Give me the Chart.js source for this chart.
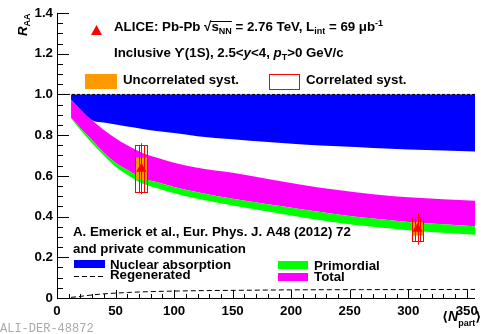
<!DOCTYPE html>
<html>
<head>
<meta charset="utf-8">
<script src="https://cdn.jsdelivr.net/npm/chart.js@4/dist/chart.umd.min.js"></script>
<style>
  html, body { margin: 0; padding: 0; background: #fff; }
  #raa { display: block; }
</style>
</head>
<body>
<canvas id="raa" width="481" height="334"></canvas>
<script>
// model bands (Emerick et al.)
var npart          = [12, 20, 30, 40, 50, 60, 72, 85, 100, 120, 150, 180, 210, 240, 270, 300, 330, 357];
var nuclearHigh    = [1, 1, 1, 1, 1, 1, 1, 1, 1, 1, 1, 1, 1, 1, 1, 1, 1, 1];
var nuclearLow     = [0.974, 0.925, 0.873, 0.862, 0.852, 0.843, 0.832, 0.82, 0.81, 0.795, 0.78, 0.766, 0.754, 0.745, 0.737, 0.73, 0.725, 0.72];
var totalHigh      = [0.974, 0.925, 0.873, 0.825, 0.785, 0.75, 0.715, 0.69, 0.665, 0.64, 0.615, 0.585, 0.555, 0.53, 0.51, 0.495, 0.485, 0.478];
var totalLow       = [0.885, 0.835, 0.775, 0.715, 0.665, 0.63, 0.59, 0.57, 0.545, 0.52, 0.487, 0.46, 0.435, 0.41, 0.39, 0.373, 0.362, 0.352];
var primordialLow  = [0.882, 0.825, 0.76, 0.70, 0.645, 0.605, 0.565, 0.54, 0.515, 0.488, 0.455, 0.425, 0.395, 0.37, 0.35, 0.333, 0.32, 0.311];

var regenNpart     = [12, 20, 30, 44, 60, 78, 100, 120, 160, 200, 260, 357];
var regenValues    = [0.003, 0.008, 0.015, 0.022, 0.027, 0.031, 0.034, 0.036, 0.038, 0.040, 0.041, 0.042];

// ALICE data
var aliceNpart     = [72, 308];
var aliceRaa       = [0.635, 0.34];
var aliceStat      = [0.125, 0.078];
var aliceUncorr    = [0.055, 0.033];
var aliceCorr      = [0.115, 0.06];

var xTicks = [0, 50, 100, 150, 200, 250, 300, 350];
var yTicks = [0, 0.2, 0.4, 0.6, 0.8, 1, 1.2, 1.4];

var FONT = '"Liberation Sans", "DejaVu Sans", Arial, sans-serif';

function pts(xs, ys) {
    return xs.map(function (x, i) { return { x: x, y: ys[i] }; });
}

function band(data, color, fill) {
    return {
        data: data,
        borderWidth: 0,
        borderColor: 'rgba(0,0,0,0)',
        backgroundColor: color,
        pointRadius: 0,
        cubicInterpolationMode: 'monotone',
        fill: fill
    };
}

function rich(ctx, x, y, parts) {
    parts.forEach(function (p) {
        ctx.font = (p.it ? 'italic ' : '') + 'bold ' + (p.size || 13.3) + 'px ' + FONT;
        ctx.fillText(p.t, x, y + (p.dy || 0));
        p.x0 = x;
        x += ctx.measureText(p.t).width;
        p.x1 = x;
    });
    return parts;
}

var boxesPlugin = {
    id: 'boxes',
    beforeDatasetDraw: function (chart, args) {
        if (args.index !== 0) return;
        var ctx = chart.ctx, xs = chart.scales.x, ys = chart.scales.y;
        ctx.save();
        ctx.fillStyle = '#ff9900';
        aliceNpart.forEach(function (n, i) {
            var x0 = xs.getPixelForValue(n - 5), x1 = xs.getPixelForValue(n + 5);
            var y0 = ys.getPixelForValue(aliceRaa[i] + aliceUncorr[i]), y1 = ys.getPixelForValue(aliceRaa[i] - aliceUncorr[i]);
            ctx.fillRect(x0, y0, x1 - x0, y1 - y0);
        });
        ctx.restore();
    },
    afterDatasetDraw: function (chart, args) {
        if (args.index !== 0) return;
        var ctx = chart.ctx, xs = chart.scales.x, ys = chart.scales.y;
        ctx.save();
        ctx.strokeStyle = '#ff0000';
        ctx.lineWidth = 1;
        aliceNpart.forEach(function (n, i) {
            var xc = Math.round(xs.getPixelForValue(n)) + 0.5;
            var y0 = ys.getPixelForValue(aliceRaa[i] + aliceCorr[i]), y1 = ys.getPixelForValue(aliceRaa[i] - aliceCorr[i]);
            [5, 2.2].forEach(function (w) {
                var x0 = Math.round(xs.getPixelForValue(n - w)) + 0.5, x1 = Math.round(xs.getPixelForValue(n + w)) + 0.5;
                ctx.strokeRect(x0, Math.round(y0) + 0.5, x1 - x0, Math.round(y1 - y0));
            });
            ctx.beginPath();
            ctx.moveTo(xc, ys.getPixelForValue(aliceRaa[i] + aliceStat[i]));
            ctx.lineTo(xc, ys.getPixelForValue(aliceRaa[i] - aliceStat[i]));
            ctx.stroke();
        });
        ctx.restore();
    }
};

var framePlugin = {
    id: 'frame',
    afterDraw: function (chart) {
        var ctx = chart.ctx, xs = chart.scales.x, ys = chart.scales.y, a = chart.chartArea;
        ctx.save();
        ctx.strokeStyle = '#000';
        ctx.lineWidth = 1;
        ctx.beginPath();
        ctx.moveTo(a.left + 0.5, a.top);
        ctx.lineTo(a.left + 0.5, a.bottom + 0.5);
        ctx.lineTo(a.right, a.bottom + 0.5);
        // y ticks, inward
        for (var v = 0; v <= 1.4001; v += 0.05) {
            var py = Math.round(ys.getPixelForValue(v)) + 0.5;
            var major = Math.abs(v / 0.2 - Math.round(v / 0.2)) < 1e-6;
            ctx.moveTo(a.left, py);
            ctx.lineTo(a.left + (major ? 12 : 6), py);
        }
        // x ticks, inward
        for (var n = 0; n <= 357; n += 10) {
            var px = Math.round(xs.getPixelForValue(n)) + 0.5;
            ctx.moveTo(px, a.bottom);
            ctx.lineTo(px, a.bottom - (n % 50 === 0 ? 8 : 4));
        }
        ctx.stroke();

        ctx.fillStyle = '#000';
        ctx.textBaseline = 'alphabetic';
        ctx.textAlign = 'left';

        // axis titles
        ctx.save();
        ctx.translate(27, 36);
        ctx.rotate(-Math.PI / 2);
        rich(ctx, 0, 0, [{ t: 'R', it: true, size: 13.3 }, { t: 'AA', size: 9, dy: 3 }]);
        ctx.restore();
        rich(ctx, 442, 321, [{ t: '\u27E8', size: 13.3 }, { t: 'N', it: true, size: 14 }, { t: 'part', size: 9, dy: 5 }, { t: '\u27E9', size: 13.3 }]);

        // ALICE header
        ctx.fillStyle = '#ff0000';
        ctx.beginPath();
        ctx.moveTo(96.5, 25);
        ctx.lineTo(102, 35);
        ctx.lineTo(91, 35);
        ctx.closePath();
        ctx.fill();
        ctx.fillStyle = '#000';
        var p = rich(ctx, 114, 31, [
            { t: 'ALICE: Pb-Pb ' }, { t: '\u221A' }, { t: 's' }, { t: 'NN', size: 9, dy: 3 },
            { t: ' = 2.76 TeV, L' }, { t: 'int', size: 9, dy: 3 }, { t: ' = 69 \u03BCb' }, { t: '-1', size: 9, dy: -5 }
        ]);
        ctx.beginPath();
        ctx.moveTo(p[1].x1 - 1, 21.5);
        ctx.lineTo(p[3].x1, 21.5);
        ctx.stroke();
        rich(ctx, 114, 57, [
            { t: 'Inclusive \u03D2(1S), 2.5<' }, { t: 'y', it: true }, { t: '<4, ' },
            { t: 'p', it: true }, { t: 'T', size: 9, dy: 3 }, { t: '>0 GeV/c' }
        ]);

        // syst legend
        ctx.fillStyle = '#ff9900';
        ctx.fillRect(85, 74, 32, 15);
        ctx.strokeStyle = '#ff0000';
        ctx.strokeRect(269.5, 74.5, 30, 15);
        ctx.fillStyle = '#000';
        rich(ctx, 123, 84, [{ t: 'Uncorrelated syst.' }]);
        rich(ctx, 306, 84, [{ t: 'Correlated syst.' }]);

        // model legend
        rich(ctx, 73, 236, [{ t: 'A. Emerick et al., Eur. Phys. J. A48 (2012) 72' }]);
        rich(ctx, 73, 253, [{ t: 'and private communication' }]);
        ctx.fillStyle = '#0000ff';
        ctx.fillRect(74, 260, 31, 8);
        ctx.fillStyle = '#00ff00';
        ctx.fillRect(278, 261, 30, 8);
        ctx.fillStyle = '#ff00ff';
        ctx.fillRect(278, 273, 30, 8);
        ctx.strokeStyle = '#000';
        ctx.setLineDash([5, 3]);
        ctx.beginPath();
        ctx.moveTo(74, 276.5);
        ctx.lineTo(106, 276.5);
        ctx.stroke();
        ctx.setLineDash([]);
        ctx.fillStyle = '#000';
        rich(ctx, 110, 269, [{ t: 'Nuclear absorption' }]);
        rich(ctx, 110, 279, [{ t: 'Regenerated' }]);
        rich(ctx, 314, 270, [{ t: 'Primordial' }]);
        rich(ctx, 314, 281, [{ t: 'Total' }]);

        ctx.fillStyle = '#aaaaaa';
        ctx.font = '12px "Liberation Mono", "DejaVu Sans Mono", monospace';
        ctx.fillText('ALI-DER-48872', 0, 332);
        ctx.restore();
    }
};

var ctx = document.getElementById('raa').getContext('2d');
new Chart(ctx, {
    type: 'line',
    data: {
        datasets: [
            {
                data: pts(aliceNpart, aliceRaa),
                showLine: false,
                pointStyle: 'triangle',
                pointRadius: 6,
                pointBorderWidth: 0,
                pointBackgroundColor: '#ff0000',
                borderColor: '#ff0000'
            },
            {
                data: pts(regenNpart, regenValues),
                borderColor: '#000',
                borderWidth: 1,
                borderDash: [5, 3],
                pointRadius: 0,
                cubicInterpolationMode: 'monotone',
                fill: false
            },
            {
                data: [{ x: 0, y: 1 }, { x: 357, y: 1 }],
                borderColor: '#000',
                borderWidth: 1,
                borderDash: [3, 2],
                pointRadius: 0,
                fill: false
            },
            band(pts(npart, primordialLow), 'rgba(0,0,0,0)', false),
            band(pts(npart, totalLow), '#00ff00', 3),
            band(pts(npart, totalHigh), '#ff00ff', 4),
            band(pts(npart, nuclearLow), 'rgba(0,0,0,0)', false),
            band(pts(npart, nuclearHigh), '#0000ff', 6)
        ]
    },
    options: {
        responsive: false,
        animation: false,
        devicePixelRatio: 1,
        layout: { padding: { top: 13, right: 0, left: 0, bottom: 0 } },
        plugins: { legend: { display: false }, tooltip: { enabled: false } },
        scales: {
            x: {
                type: 'linear',
                min: 0,
                max: 357,
                grid: { display: false, drawTicks: false },
                border: { display: false },
                afterBuildTicks: function (scale) {
                    scale.ticks = xTicks.map(function (v) { return { value: v }; });
                },
                afterFit: function (scale) {
                    scale.height = 36;
                    scale.paddingLeft = 0;
                    scale.paddingRight = 0;
                },
                ticks: { padding: 5, color: '#000', maxRotation: 0, autoSkip: false, font: { family: FONT, size: 13.3, weight: 'bold' } }
            },
            y: {
                min: 0,
                max: 1.4,
                grid: { display: false, drawTicks: false },
                border: { display: false },
                afterBuildTicks: function (scale) {
                    scale.ticks = yTicks.map(function (v) { return { value: v }; });
                },
                afterFit: function (scale) {
                    scale.width = 57;
                    scale.paddingTop = 0;
                    scale.paddingBottom = 0;
                },
                ticks: { padding: 4, color: '#000', font: { family: FONT, size: 13.3, weight: 'bold' } }
            }
        }
    },
    plugins: [boxesPlugin, framePlugin]
});
</script>
</body>
</html>
